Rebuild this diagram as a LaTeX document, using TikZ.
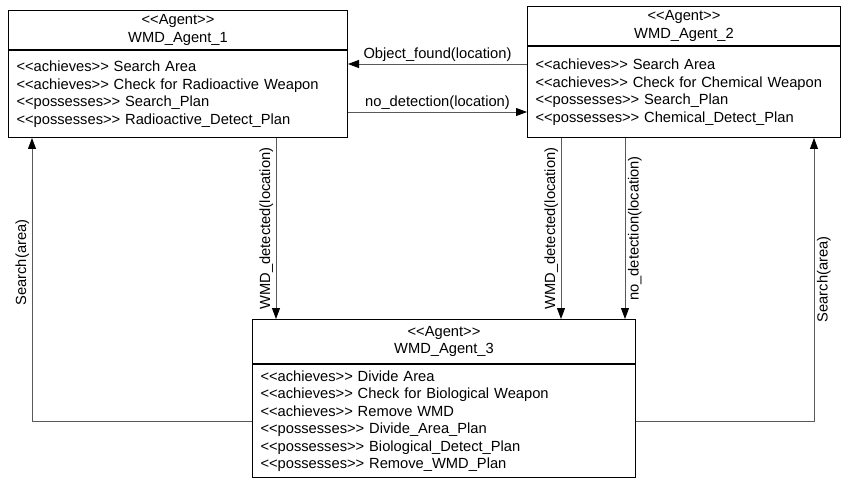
\documentclass[tikz,border=0pt]{standalone}
\usepackage{fontspec}
\setmainfont{Liberation Sans}
\usetikzlibrary{arrows.meta, positioning}

% stereotype brackets without the << >> guillemet ligature
\newcommand{\stereo}[1]{<{}<#1>{}>}

\begin{document}
\begin{tikzpicture}[
    x=1pt, y=-1pt,
    font=\fontsize{14.7}{17.5}\selectfont,
    agenthead/.style={
        rectangle, draw=black, line width=1pt, fill=white,
        minimum width=#1, align=center, inner sep=0pt
    },
    agentbody/.style={
        rectangle, draw=black, line width=1pt, fill=white,
        text width=#1-16pt, inner xsep=8pt, inner ysep=0pt, align=left
    },
    msg/.style={-{Triangle[length=11pt, width=8pt, color=black]}, line width=0.8pt, draw=gray!70!black},
    lbl/.style={inner sep=2.5pt, text=black}
]
\useasboundingbox (0,0) rectangle (842,478);

% Agent 1, top left
\node[agenthead=339pt, minimum height=39pt, anchor=north west] (agent1h) at (8,10)
    {\stereo{Agent}\\WMD\_Agent\_1};
\node[agentbody=339pt, minimum height=87pt, below=0pt of agent1h] (agent1b)
    {\stereo{achieves} Search Area\\
     \stereo{achieves} Check for Radioactive Weapon\\
     \stereo{possesses} Search\_Plan\\
     \stereo{possesses} Radioactive\_Detect\_Plan};

% Agent 2, top right
\node[agenthead=313pt, minimum height=39pt, anchor=north west] (agent2h) at (527,6)
    {\stereo{Agent}\\WMD\_Agent\_2};
\node[agentbody=313pt, minimum height=91pt, below=0pt of agent2h] (agent2b)
    {\stereo{achieves} Search Area\\
     \stereo{achieves} Check for Chemical Weapon\\
     \stereo{possesses} Search\_Plan\\
     \stereo{possesses} Chemical\_Detect\_Plan};

% Agent 3, bottom middle
\node[agenthead=383pt, minimum height=44pt, anchor=north west] (agent3h) at (252,319)
    {\stereo{Agent}\\WMD\_Agent\_3};
\node[agentbody=383pt, minimum height=113pt, below=0pt of agent3h] (agent3b)
    {\stereo{achieves} Divide Area\\
     \stereo{achieves} Check for Biological Weapon\\
     \stereo{achieves} Remove WMD\\
     \stereo{possesses} Divide\_Area\_Plan\\
     \stereo{possesses} Biological\_Detect\_Plan\\
     \stereo{possesses} Remove\_WMD\_Plan};

% Messages between agent 1 and agent 2
\draw[msg] ([yshift=-18pt]agent2b.north west) coordinate (found)
    -- (found -| agent1b.east) node[lbl, midway, above] {Object\_found(location)};
\draw[msg] ([yshift=-62pt]agent1b.north east) coordinate (nodet)
    -- (nodet -| agent2b.west) node[lbl, midway, above] {no\_detection(location)};

% Reports down to agent 3
\draw[msg] ([xshift=268pt]agent1b.south west) coordinate (det1)
    -- (det1 |- agent3h.north) node[lbl, midway, rotate=90, anchor=south] {WMD\_detected(location)};
\draw[msg] ([xshift=34pt]agent2b.south west) coordinate (det2)
    -- (det2 |- agent3h.north) node[lbl, midway, rotate=90, anchor=south] {WMD\_detected(location)};
\draw[msg] ([xshift=98pt]agent2b.south west) coordinate (nodet2)
    -- (nodet2 |- agent3h.north) node[lbl, midway, rotate=90, anchor=north] {no\_detection(location)};

% Search requests from agent 3
\coordinate (srchl) at ([xshift=24pt]agent1b.south west);
\coordinate (srchr) at ([xshift=-27pt]agent2b.south east);
\draw[msg] ([yshift=-57pt]agent3b.north west) -| (srchl)
    node[lbl, pos=0.78, rotate=90, anchor=south] {Search(area)};
\draw[msg] ([yshift=-57pt]agent3b.north east) -| (srchr)
    node[lbl, pos=0.75, rotate=90, anchor=north] {Search(area)};

\end{tikzpicture}
\end{document}
